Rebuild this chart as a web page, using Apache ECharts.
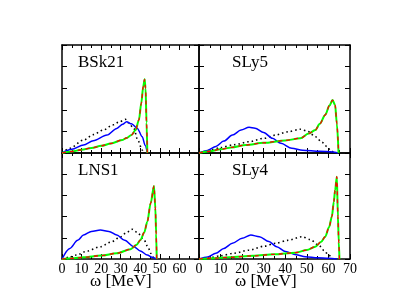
<!DOCTYPE html>
<html><head><meta charset="utf-8">
<script src="https://cdn.jsdelivr.net/npm/echarts@6/dist/echarts.min.js"></script>
<style>html,body{margin:0;padding:0;background:#fff}#c{width:396px;height:306px}</style>
</head><body><div id="c"></div>
<script>
// ---- data (omega [MeV], value in arbitrary units) ----
const panelNames = ['BSk21', 'SLy5', 'LNS1', 'SLy4'];
const xAxisTitle = 'ω [MeV]';
const xMin = 0, xMax = 70, xStep = 10;
const yMin = 0, yMax = 5, yStep = 1;

const bsk21Green = [[0,0],[5,0.07],[10,0.15],[15,0.23],[20,0.33],[25,0.44],[30.7,0.6],[33,0.7],[35.5,0.83],[37.6,1.06],[39.3,1.53],[40.5,2.3],[41.5,3.07],[42.2,3.41],[42.7,3.0],[43.2,1.4],[43.6,0]];
const bsk21Blue  = [[0,0],[5,0.17],[11,0.37],[16,0.57],[23,0.83],[28,1.14],[31,1.33],[33,1.45],[35.5,1.35],[38.5,1.14],[41,0.75],[42.5,0.35],[43.6,0]];
const bsk21Dot   = [[0,0],[4,0.22],[11,0.6],[16,0.85],[21,1.06],[26,1.3],[29.5,1.45],[32.4,1.56],[34,1.4],[36.7,1.14],[38.7,0.6],[41,0.14],[41.5,0]];

const sly5Green = [[0,0],[5,0.08],[10,0.17],[15,0.26],[21.7,0.37],[30,0.47],[40,0.58],[47,0.68],[50.8,0.9],[53.9,1.06],[56,1.35],[58.5,1.76],[60.5,2.2],[61.9,2.45],[63.1,2.22],[63.9,1.37],[64.7,0]];
const sly5Blue  = [[0,0],[4,0.12],[7.8,0.3],[11.5,0.55],[15.5,0.83],[19.5,1.06],[23.2,1.19],[26,1.15],[30,0.95],[34,0.68],[38,0.45],[43,0.22],[48,0.13],[56,0.08],[62,0.05],[64.5,0]];
const sly5Dot   = [[0,0],[5,0.12],[10,0.25],[16,0.38],[23.2,0.52],[30,0.68],[35.5,0.83],[41,0.98],[47,1.1],[50.5,1.0],[54,0.75],[57,0.5],[59.3,0.3],[61,0.12],[62.5,0]];

const lns1Green = [[0,0],[5,0.03],[11,0.08],[20,0.16],[28,0.27],[35,0.46],[38,0.66],[40.1,0.9],[42,1.25],[43.6,1.76],[45.3,2.63],[47,3.44],[47.7,2.4],[48.1,1.2],[48.4,0]];
const lns1Blue  = [[0,0],[4,0.5],[8,0.88],[11,1.13],[15,1.3],[19.6,1.37],[24,1.3],[28,1.13],[32,0.88],[36.7,0.58],[40,0.38],[43.6,0.19],[46,0.08],[48.4,0]];
const lns1Dot   = [[0,0],[3.5,0.08],[7.5,0.19],[13,0.38],[19.6,0.58],[25,0.8],[30,1.05],[33,1.25],[35.9,1.4],[38.5,1.25],[41.9,0.9],[44,0.55],[45.3,0.27],[47,0]];

const sly4Green = [[0,0],[7,0.04],[14,0.08],[25,0.15],[35,0.22],[44.7,0.3],[50,0.42],[53.9,0.58],[56.5,0.8],[58.5,1.05],[60.3,1.5],[61.6,2.0],[62.5,2.7],[63.1,3.25],[63.9,3.88],[64.4,2.0],[64.8,0.8],[65.1,0]];
const sly4Blue  = [[0,0],[4,0.1],[7.8,0.27],[11.5,0.5],[15.5,0.74],[20,0.98],[24,1.13],[28,1.05],[32.4,0.82],[36,0.58],[40.1,0.35],[45,0.2],[49.3,0.11],[55,0.06],[60,0.03],[64,0]];
const sly4Dot   = [[0,0],[5,0.07],[10,0.15],[16,0.27],[23.2,0.42],[30,0.6],[35.5,0.74],[41,0.88],[47.8,1.05],[51.5,0.92],[55.4,0.66],[58,0.4],[60,0.19],[62,0]];

const panelData = [
  [bsk21Green, bsk21Blue, bsk21Dot],
  [sly5Green, sly5Blue, sly5Dot],
  [lns1Green, lns1Blue, lns1Dot],
  [sly4Green, sly4Blue, sly4Dot]
];

// ---- layout ----
const FONT = '"Liberation Serif", "Times New Roman", serif';
const grids = [
  {left: 62,  top: 45,  width: 137, height: 108},
  {left: 199, top: 45,  width: 151, height: 108},
  {left: 62,  top: 153, width: 137, height: 106},
  {left: 199, top: 153, width: 151, height: 106}
];
const lineStyleAxis = {color: '#000', width: 1.5};

const xAxes = [], yAxes = [], series = [], titles = [], graphics = [];
grids.forEach((g, i) => {
  const bottomRow = i >= 2;
  const isLeft = i % 2 === 0;
  const baseX = {
    type: 'value', gridIndex: i, min: xMin, max: xMax, interval: xStep,
    axisLine: {show: true, onZero: false, lineStyle: lineStyleAxis},
    axisTick: {show: true, inside: true, length: 5, lineStyle: {color: '#000', width: 1}},
    minorTick: {show: true, splitNumber: 2, length: 3, lineStyle: {color: '#000', width: 1}},
    splitLine: {show: false}, minorSplitLine: {show: false}
  };
  xAxes.push(Object.assign({}, baseX, {
    position: 'bottom',
    axisLabel: {show: bottomRow, color: '#000', fontFamily: FONT, fontSize: 14, margin: 3,
      showMaxLabel: !isLeft}
  }));
  xAxes.push(Object.assign({}, baseX, {position: 'top', axisLabel: {show: false}}));
  const baseY = {
    type: 'value', gridIndex: i, min: yMin, max: yMax, interval: yStep,
    axisLine: {show: true, onZero: false, lineStyle: lineStyleAxis},
    axisTick: {show: true, inside: true, length: 5, lineStyle: {color: '#000', width: 1}},
    axisLabel: {show: false}, splitLine: {show: false}
  };
  yAxes.push(Object.assign({}, baseY, {position: 'left'}));
  yAxes.push(Object.assign({}, baseY, {position: 'right'}));

  const [green, blue, dot] = panelData[i];
  const common = {type: 'line', xAxisIndex: 2 * i, yAxisIndex: 2 * i, showSymbol: false,
    smooth: 0.3, smoothMonotone: 'x', silent: true, animation: false};
  series.push(Object.assign({}, common, {data: dot, lineStyle: {color: '#000', width: 1.6, type: [1.5, 3]}}));
  series.push(Object.assign({}, common, {data: blue, lineStyle: {color: '#0000ff', width: 1.5}}));
  series.push(Object.assign({}, common, {data: green, lineStyle: {color: '#00ff00', width: 2}}));
  series.push(Object.assign({}, common, {data: green, lineStyle: {color: '#ff0000', width: 1.3, type: [4, 4]}}));

  titles.push({text: panelNames[i], left: g.left + (isLeft ? 16 : 33), top: g.top + 9, padding: 0,
    textStyle: {fontFamily: FONT, fontSize: 17, fontWeight: 'normal', color: '#000'}});
  if (bottomRow) {
    graphics.push({type: 'text', left: g.left + (isLeft ? 28 : 36), top: 273,
      style: {text: xAxisTitle, fontFamily: FONT, fontSize: 17, fill: '#000'}});
  }
});

const chart = echarts.init(document.getElementById('c'), null, {renderer: 'canvas'});
chart.setOption({
  animation: false,
  backgroundColor: '#fff',
  title: titles,
  grid: grids,
  xAxis: xAxes,
  yAxis: yAxes,
  series: series,
  graphic: graphics
});
</script></body></html>
